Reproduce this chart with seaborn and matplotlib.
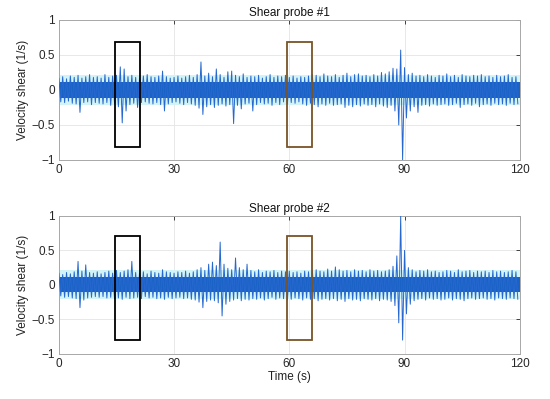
import numpy as np
import pandas as pd
import matplotlib.pyplot as plt
import seaborn as sns
from matplotlib.patches import Rectangle

# per-second upper / lower envelope of the shear signal
seconds = list(range(120))
core_level = 0.11  # half-width of the dense part of the noise band
halo_level = 0.21  # half-width of the pale fringe around it

up1 = [.17, .19, .16, .20, .18, .21, .17, .19, .22, .18,
       .19, .17, .22, .18, .20, .21, .33, .30, .19, .21,
       .18, .17, .20, .22, .19, .18, .20, .27, .19, .17,
       .18, .20, .17, .19, .21, .18, .22, .40, .20, .24,
       .19, .30, .22, .18, .26, .27, .21, .19, .23, .18,
       .20, .19, .21, .17, .19, .22, .18, .20, .19, .21,
       .18, .20, .17, .19, .18, .20, .22, .21, .19, .23,
       .20, .19, .22, .18, .21, .24, .19, .22, .23, .20,
       .21, .19, .22, .20, .25, .23, .26, .31, .30, .57,
       .32, .22, .24, .20, .21, .19, .22, .20, .18, .21,
       .20, .23, .19, .21, .18, .22, .20, .19, .21, .20,
       .22, .19, .20, .18, .21, .19, .20, .22, .18, .19]
lo1 = [-.17, -.18, -.16, -.19, -.20, -.32, -.18, -.17, -.21, -.18,
       -.19, -.20, -.18, -.22, -.19, -.24, -.47, -.30, -.21, -.19,
       -.25, -.18, -.17, -.19, -.20, -.18, -.21, -.30, -.20, -.18,
       -.17, -.19, -.21, -.18, -.20, -.22, -.26, -.35, -.24, -.21,
       -.25, -.22, -.20, -.23, -.21, -.48, -.22, -.27, -.20, -.19,
       -.30, -.21, -.18, -.20, -.19, -.22, -.18, -.21, -.17, -.20,
       -.18, -.19, -.17, -.20, -.22, -.19, -.21, -.24, -.20, -.22,
       -.19, -.22, -.21, -.20, -.25, -.22, -.24, -.21, -.23, -.20,
       -.22, -.21, -.24, -.20, -.23, -.25, -.22, -.30, -.50, -1.0,
       -.40, -.30, -.24, -.32, -.22, -.21, -.23, -.20, -.22, -.21,
       -.20, -.22, -.21, -.19, -.25, -.21, -.20, -.22, -.19, -.24,
       -.21, -.20, -.22, -.19, -.21, -.20, -.22, -.19, -.21, -.20]

up2 = [.17, .15, .18, .16, .19, .34, .20, .29, .18, .17,
       .19, .16, .18, .20, .17, .21, .18, .20, .22, .34,
       .18, .17, .19, .16, .20, .18, .17, .22, .19, .18,
       .17, .19, .18, .20, .17, .19, .22, .25, .21, .30,
       .33, .28, .62, .30, .24, .22, .39, .25, .22, .30,
       .21, .19, .22, .18, .20, .19, .21, .18, .20, .19,
       .20, .18, .19, .17, .20, .19, .21, .22, .20, .19,
       .23, .20, .26, .22, .20, .21, .19, .22, .20, .21,
       .19, .22, .20, .21, .19, .20, .22, .27, .42, 1.0,
       .50, .25, .22, .19, .21, .20, .22, .19, .20, .18,
       .19, .21, .20, .18, .22, .19, .20, .21, .18, .20,
       .19, .20, .18, .21, .19, .20, .18, .19, .21, .19]
lo2 = [-.16, -.18, -.17, -.19, -.20, -.33, -.22, -.19, -.18, -.17,
       -.18, -.17, -.19, -.18, -.20, -.19, -.21, -.18, -.20, -.19,
       -.18, -.20, -.17, -.19, -.18, -.20, -.19, -.21, -.18, -.20,
       -.19, -.18, -.20, -.19, -.21, -.22, -.25, -.33, -.24, -.22,
       -.23, -.26, -.45, -.28, -.24, -.22, -.20, -.23, -.21, -.22,
       -.20, -.21, -.19, -.22, -.20, -.18, -.21, -.19, -.20, -.22,
       -.21, -.19, -.20, -.22, -.19, -.21, -.20, -.23, -.21, -.20,
       -.22, -.20, -.23, -.21, -.24, -.20, -.22, -.21, -.23, -.20,
       -.21, -.22, -.20, -.23, -.21, -.22, -.24, -.30, -.55, -.80,
       -.42, -.28, -.23, -.21, -.20, -.22, -.19, -.21, -.20, -.22,
       -.21, -.19, -.22, -.20, -.21, -.23, -.20, -.19, -.21, -.20,
       -.19, -.21, -.20, -.22, -.19, -.20, -.21, -.19, -.20, -.21]

titles = ['Shear probe #1', 'Shear probe #2']
xticks = [0, 30, 60, 90, 120]
yticks = [-1, -0.5, 0, 0.5, 1]
# highlighted windows: (start, end, bottom, top, colour)
boxes1 = [(14.5, 21, -0.82, 0.68, 'black'), (59.5, 66, -0.82, 0.68, '#7a5426')]
boxes2 = [(14.5, 21, -0.80, 0.71, 'black'), (59.5, 66, -0.80, 0.71, '#7a5426')]


def make_df(up, lo):
    # alternate between the max and min of each second
    t = np.ravel(np.column_stack([np.array(seconds, float), np.array(seconds) + 0.5]))
    v = np.ravel(np.column_stack([up, lo]))
    return pd.DataFrame({'time': t, 'shear': v})


sns.set_theme(style='white')
plt.rcParams['font.family'] = ['Liberation Sans', 'DejaVu Sans']

fig = plt.figure(figsize=(5.5, 3.99), dpi=100)
ax1 = fig.add_axes([0.107, 0.599, 0.838, 0.351])
ax2 = fig.add_axes([0.107, 0.113, 0.838, 0.346])

for ax, up, lo, title, boxes in [(ax1, up1, lo1, titles[0], boxes1),
                                  (ax2, up2, lo2, titles[1], boxes2)]:
    df = make_df(up, lo)
    # pale fringe and dense core of the noise band
    ax.fill_between([0, 120], -halo_level, halo_level, color='#d2f4f7', lw=0, zorder=1)
    ax.fill_between([0, 120], -core_level, core_level, color='#1a62c6', lw=0, zorder=2)
    sns.lineplot(data=df, x='time', y='shear', ax=ax, estimator=None, sort=False,
                 color='#2668cf', lw=0.7, zorder=3)
    for x0, x1, y0, y1, c in boxes:
        ax.add_patch(Rectangle((x0, y0), x1 - x0, y1 - y0, fill=False, ec=c, lw=1.3, zorder=5))
    ax.set_xlim(0, 120)
    ax.set_ylim(-1, 1)
    ax.set_xticks(xticks)
    ax.set_yticks(yticks)
    ax.set_yticklabels(['\u22121', '\u22120.5', '0', '0.5', '1'])
    ax.grid(True, color='#e4e4e4', lw=0.6)
    ax.set_axisbelow(True)
    ax.tick_params(direction='in', length=3, width=0.6, colors='#262626', labelsize=8.5,
                   top=True, right=True, pad=3)
    for s in ax.spines.values():
        s.set_color('#a8a8a8')
        s.set_linewidth(0.7)
    ax.set_title(title, fontsize=8.5, pad=3, color='#111111')
    ax.set_ylabel('Velocity shear (1/s)', fontsize=8.5, labelpad=2, color='#222222')
    ax.set_xlabel('')

ax2.set_xlabel('Time (s)', fontsize=8.5, labelpad=1, color='#222222')

fig.savefig('out.png', dpi=100)
